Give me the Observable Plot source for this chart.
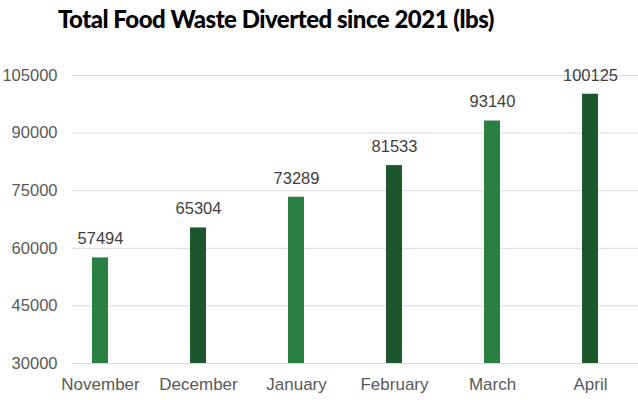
<!DOCTYPE html>
<html>
<head>
<meta charset="utf-8">
<script src="https://cdn.jsdelivr.net/npm/d3@7"></script>
<script src="https://cdn.jsdelivr.net/npm/@observablehq/plot@0.6"></script>
<style>
  html, body { margin: 0; padding: 0; background: #fff; }
  #wrap { position: relative; width: 638px; height: 400px; overflow: hidden; }
  #title { position: absolute; left: 0; top: 0; width: 552px; height: 40px; text-align: center;
    font-family: "Lato", "DejaVu Sans", sans-serif; font-weight: 900; font-size: 24px; letter-spacing: -0.5px;
    line-height: 38px; color: #000; }
  #chart { position: absolute; left: 0; top: 40px; }
</style>
</head>
<body>
<div id="wrap">
  <div id="title">Total Food Waste Diverted since 2021 (lbs)</div>
  <div id="chart"></div>
</div>
<script>
const months = ["November", "December", "January", "February", "March", "April"];
const values = [57494, 65304, 73289, 81533, 93140, 100125];
const yTicks = [30000, 45000, 60000, 75000, 90000, 105000];

const data = months.map((m, i) => ({month: m, value: values[i], idx: i}));
const light = "#2a8043";
const dark = "#1c582c";

const chart = Plot.plot({
  width: 638,
  height: 360,
  marginLeft: 72,
  marginRight: 0,
  marginTop: 0,
  marginBottom: 37,
  style: {fontFamily: "Liberation Sans, Arial, sans-serif", fontSize: "16.5px", background: "#fff", overflow: "visible"},
  x: {domain: months, range: [49, 640], paddingInner: 0.84, paddingOuter: 0.42, label: null},
  y: {domain: [30000, 105000], range: [323, 35], label: null},
  marks: [
    Plot.ruleY(yTicks, {stroke: "#d9d9d9", strokeWidth: 1}),
    Plot.barY(data, {x: "month", y1: 30000, y2: "value", fill: d => d.idx % 2 ? dark : light}),
    Plot.text(data, {x: "month", y: "value", text: d => String(d.value), dy: -19, fill: "#404040", fontSize: 16.5}),
    Plot.axisY({ticks: yTicks, tickSize: 0, tickPadding: 15, tickFormat: d => String(d), fill: "#595959", fontSize: 16.5, label: null}),
    Plot.axisX({tickSize: 0, tickPadding: 14, fill: "#595959", fontSize: 17, label: null})
  ]
});
document.getElementById("chart").appendChild(chart);
</script>
</body>
</html>
